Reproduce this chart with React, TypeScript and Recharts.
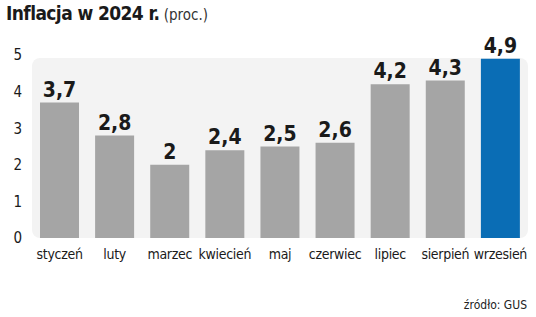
import React from "react";
import {
  BarChart,
  Bar,
  XAxis,
  YAxis,
  CartesianGrid,
  Cell,
  LabelList,
  ReferenceArea,
} from "recharts";

const months = [
  "styczeń",
  "luty",
  "marzec",
  "kwiecień",
  "maj",
  "czerwiec",
  "lipiec",
  "sierpień",
  "wrzesień",
];
const inflation = [3.7, 2.8, 2.0, 2.4, 2.5, 2.6, 4.2, 4.3, 4.9];
const yTicks = [0, 1, 2, 3, 4, 5];

const data = months.map((m, i) => ({ month: m, value: inflation[i] }));

const narrow = "'DejaVu Sans Condensed', 'Roboto', sans-serif";
const gray = "#a5a5a5";
const blue = "#0a6db5";

const fmt = (v: any) => String(v).replace(".", ",");

export default function App() {
  return (
    <div
      style={{
        position: "absolute",
        left: 0,
        top: 0,
        width: 536,
        height: 317,
        background: "#fff",
        fontFamily: narrow,
        color: "#1a1a1a",
      }}
    >
      <div style={{ position: "absolute", left: 6, top: 2, whiteSpace: "nowrap" }}>
        <span style={{ fontWeight: 700, fontSize: 19, letterSpacing: -0.6 }}>
          Inflacja w 2024 r.
        </span>
        <span style={{ fontSize: 15, color: "#333" }}> (proc.)</span>
      </div>
      <div style={{ position: "absolute", top: 0, left: 0 }}>
        <BarChart
          width={536}
          height={270}
          data={data}
          margin={{ top: 55, right: 8, left: 0, bottom: 2 }}
        >
          <ReferenceArea
            y1={0}
            y2={4.92}
            fill="#f3f3f3"
            fillOpacity={1}
            stroke="none"
            radius={8}
          />
          <CartesianGrid
            vertical={false}
            horizontalValues={[1, 2, 3, 4]}
            stroke="#cfcfcf"
            strokeDasharray="2 8"
          />
          <XAxis
            dataKey="month"
            axisLine={false}
            tickLine={false}
            height={30}
            tickMargin={5}
            interval={0}
            tick={{ fill: "#1a1a1a", fontSize: 14, fontFamily: narrow, letterSpacing: -0.3 }}
          />
          <YAxis
            domain={[0, 5]}
            ticks={yTicks}
            width={32}
            axisLine={false}
            tickLine={false}
            tickSize={0}
            tickMargin={10}
            tick={{ fill: "#1a1a1a", fontSize: 15, fontFamily: narrow }}
          />
          <Bar dataKey="value" barSize={39} isAnimationActive={false}>
            {data.map((d, i) => (
              <Cell key={d.month} fill={i === data.length - 1 ? blue : gray} />
            ))}
            <LabelList
              dataKey="value"
              position="top"
              offset={6}
              formatter={fmt}
              style={{ fill: "#1a1a1a", fontSize: 21, fontWeight: 700, fontFamily: narrow }}
            />
          </Bar>
        </BarChart>
      </div>
      <div
        style={{
          position: "absolute",
          right: 9,
          top: 298,
          fontSize: 12,
          color: "#222",
        }}
      >
        źródło: GUS
      </div>
    </div>
  );
}
